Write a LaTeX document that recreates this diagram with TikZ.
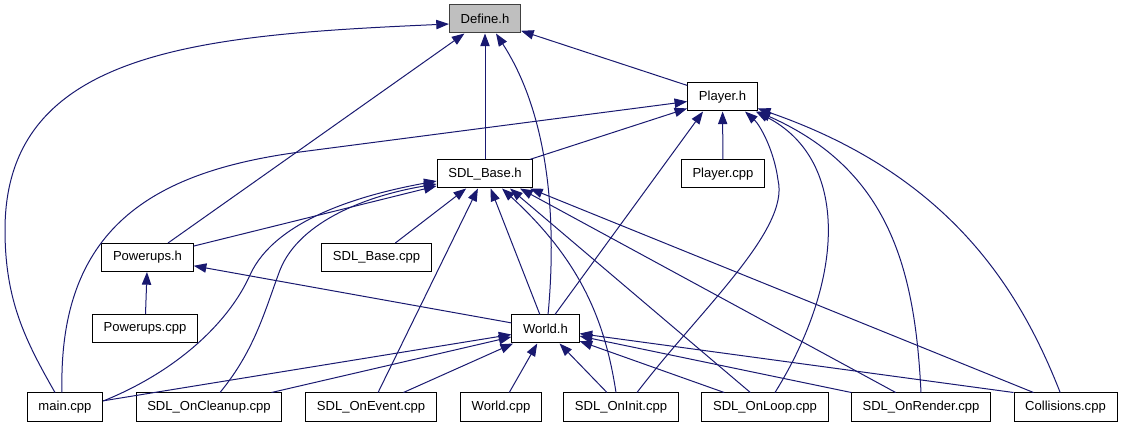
\documentclass[tikz,border=0pt]{standalone}
\usepackage{fontspec}
\setmainfont{Liberation Sans}
\usepackage{xcolor}
\usepackage{tikz}
\usetikzlibrary{arrows.meta, positioning, calc}
\definecolor{edgeblue}{RGB}{25, 25, 112}
\definecolor{rootgray}{RGB}{191, 191, 191}

\begin{document}
\begin{tikzpicture}[
    x=0.75pt, y=-0.75pt,
    file/.style={rectangle, draw=black, fill=white, line width=0.75pt, inner xsep=8.4pt, inner ysep=0pt, minimum height=21pt, font=\fontsize{9.8}{11}\selectfont},
    root/.style={file, draw=black!75, fill=rootgray},
    arr/.style={-{Triangle[length=9.5pt, width=7pt]}, line width=0.75pt, color=edgeblue}
]
    \useasboundingbox (0,0) rectangle (1124,427);

    % headers
    \node[root] (define) at (485,19) {Define.h};
    \node[file] (playerh) at (722.5,97) {Player.h};
    \node[file] (sdlbaseh) at (485,174) {SDL\_Base.h};
    \node[file] (playercpp) at (723,174) {Player.cpp};
    \node[file] (powerupsh) at (147.5,257.5) {Powerups.h};
    \node[file] (sdlbasecpp) at (376.5,257.5) {SDL\_Base.cpp};
    \node[file] (powerupscpp) at (145,328.5) {Powerups.cpp};
    \node[file] (worldh) at (545.5,329) {World.h};

    % sources
    \node[file] (maincpp) at (65,407) {main.cpp};
    \node[file] (cleanup) at (209,407) {SDL\_OnCleanup.cpp};
    \node[file] (onevent) at (371,407) {SDL\_OnEvent.cpp};
    \node[file] (worldcpp) at (501,407) {World.cpp};
    \node[file] (oninit) at (621,407) {SDL\_OnInit.cpp};
    \node[file] (onloop) at (765,407) {SDL\_OnLoop.cpp};
    \node[file] (onrender) at (921,407) {SDL\_OnRender.cpp};
    \node[file] (collisions) at (1065.5,407) {Collisions.cpp};

    % Define.h
    \draw[arr] ([xshift=-7.5pt]maincpp.north) .. controls (25,340) and (5,300) .. (5,230) .. controls (5,50) and (200,35) .. ([yshift=-3.75pt]define.west);
    \draw[arr] (powerupsh) -- (define);
    \draw[arr] (sdlbaseh) -- (define);
    \draw[arr] ([xshift=1.9pt]worldh.north) .. controls (556,230) and (552,120) .. ([xshift=8.25pt]define.south);
    \draw[arr] (playerh) -- (define);

    % Player.h
    \draw[arr] ([xshift=-2.25pt]maincpp.north) .. controls (58,230) and (150,172) .. (300,152) -- ([yshift=-3.4pt]playerh.west);
    \draw[arr] (sdlbaseh) -- (playerh);
    \draw[arr] (playercpp) -- (playerh);
    \draw[arr] ([xshift=7.1pt]worldh.north) -- ([xshift=-14.6pt]playerh.south);
    \draw[arr] ([xshift=12pt]oninit.north) .. controls (700,310) and (790,230) .. (778,180) .. controls (774,150) and (760,125) .. ([xshift=16.9pt]playerh.south);
    \draw[arr] ([xshift=7.5pt]onloop.north) .. controls (845,280) and (850,160) .. ([xshift=-1.5pt]playerh.south east);
    \draw[arr] (onrender.north) .. controls (915,270) and (890,170) .. (playerh.south east);
    \draw[arr] ([xshift=-4pt]collisions.north) .. controls (1020,290) and (950,175) .. ([yshift=2.25pt]playerh.south east);

    % SDL_Base.h
    \draw[arr] (powerupsh) -- (sdlbaseh);
    \draw[arr] ([yshift=4.5pt]maincpp.east) .. controls (180,370) and (230,320) .. (250,275) .. controls (275,220) and (360,195) .. ([yshift=-5.25pt]sdlbaseh.west);
    \draw[arr] ([xshift=8.25pt]cleanup.north) .. controls (255,350) and (265,310) .. (280,270) .. controls (300,220) and (370,195) .. ([yshift=-7.5pt]sdlbaseh.west);
    \draw[arr] (sdlbasecpp) -- (sdlbaseh);
    \draw[arr] (onevent) -- (sdlbaseh);
    \draw[arr] (worldh) -- (sdlbaseh);
    \draw[arr] ([xshift=-3.75pt]oninit.north) .. controls (605,320) and (580,260) .. ([xshift=12.75pt]sdlbaseh.south);
    \draw[arr] ([xshift=-11pt]onloop.north) -- ([xshift=18.75pt]sdlbaseh.south);
    \draw[arr] ([xshift=-19pt]onrender.north) -- ([xshift=26.25pt]sdlbaseh.south);
    \draw[arr] ([xshift=-24pt]collisions.north) -- ([xshift=33.75pt]sdlbaseh.south);

    % Powerups.h
    \draw[arr] (powerupscpp) -- (powerupsh);
    \draw[arr] (worldh) -- (powerupsh);

    % World.h
    \draw[arr] (maincpp) -- (worldh);
    \draw[arr] (cleanup) -- (worldh);
    \draw[arr] (onevent) -- (worldh);
    \draw[arr] (worldcpp) -- (worldh);
    \draw[arr] (oninit) -- (worldh);
    \draw[arr] (onloop) -- (worldh);
    \draw[arr] (onrender) -- (worldh);
    \draw[arr] (collisions.north west) -- (worldh);
\end{tikzpicture}
\end{document}
